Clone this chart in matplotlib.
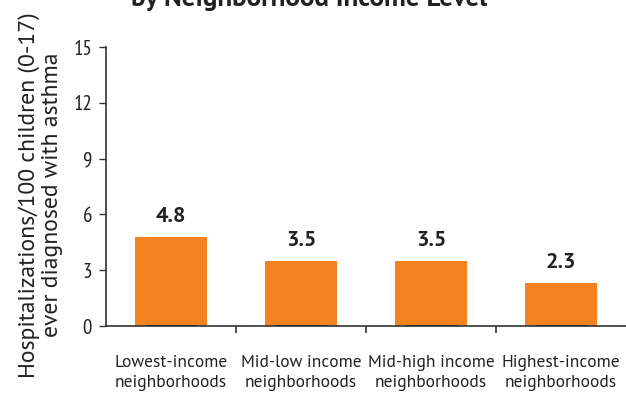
import matplotlib
matplotlib.use('Agg')
import matplotlib.pyplot as plt
import numpy as np

# Data
categories = ['Lowest-income\nneighborhoods', 'Mid-low income\nneighborhoods',
              'Mid-high income\nneighborhoods', 'Highest-income\nneighborhoods']
values = [4.8, 3.5, 3.5, 2.3]
value_labels = ['4.8', '3.5', '3.5', '2.3']
y_ticks = [0, 3, 6, 9, 12, 15]

BAR_COLOR = '#F58220'
AXIS_COLOR = '#333333'
TEXT_COLOR = '#222222'
NARROW = ['PT Sans Narrow', 'DejaVu Sans']
REGULAR = ['PT Sans', 'DejaVu Sans']

plt.rcParams['font.family'] = NARROW

fig = plt.figure(figsize=(6.26, 3.94), dpi=100)
ax = fig.add_axes([106 / 626, 1 - 326 / 394, 520 / 626, 279 / 394])

x = np.arange(len(values))
ax.bar(x, values, width=0.55, color=BAR_COLOR, zorder=2)
# darker strip of the baseline under each bar
ax.hlines(np.zeros(len(x)), x - 0.2, x + 0.2, color='#2a2a2a', lw=2, zorder=3)

for xi, v, lab in zip(x, values, value_labels):
    ax.annotate(lab, (xi, v), xytext=(0, 8), textcoords='offset points',
                ha='center', va='bottom', fontsize=16, fontweight='bold',
                color=TEXT_COLOR, family=REGULAR)

ax.set_xlim(-0.5, len(values) - 0.5)
ax.set_ylim(0, 15)
ax.set_yticks(y_ticks)
ax.set_xticks(x)
ax.set_xticklabels(categories, fontsize=12.5, color=TEXT_COLOR, linespacing=1.3,
                   family=REGULAR)
ax.set_xticks(np.arange(0.5, len(values) - 0.5, 1), minor=True)

ax.tick_params(axis='x', which='major', length=0, pad=21)
ax.tick_params(axis='x', which='minor', length=5, width=1.2, color=AXIS_COLOR, direction='out')
ax.tick_params(axis='y', length=5, width=1, color=AXIS_COLOR, labelsize=15,
               labelcolor=TEXT_COLOR, pad=5)

for side in ['top', 'right']:
    ax.spines[side].set_visible(False)
for side in ['left', 'bottom']:
    ax.spines[side].set_color(AXIS_COLOR)
    ax.spines[side].set_linewidth(1.2)

ax.set_ylabel('Hospitalizations/100 children (0-17)\never diagnosed with asthma',
              fontsize=17, color=TEXT_COLOR, linespacing=1.15,
              family=REGULAR)
ax.yaxis.set_label_coords(-0.082, 0.47)

# title, mostly cropped off the top in the reference
fig.text(0.494, 0.985, 'by Neighborhood Income Level', ha='center', va='baseline',
         fontsize=19.5, fontweight='bold', color=TEXT_COLOR, family=REGULAR)

fig.savefig('out.png', dpi=100)
